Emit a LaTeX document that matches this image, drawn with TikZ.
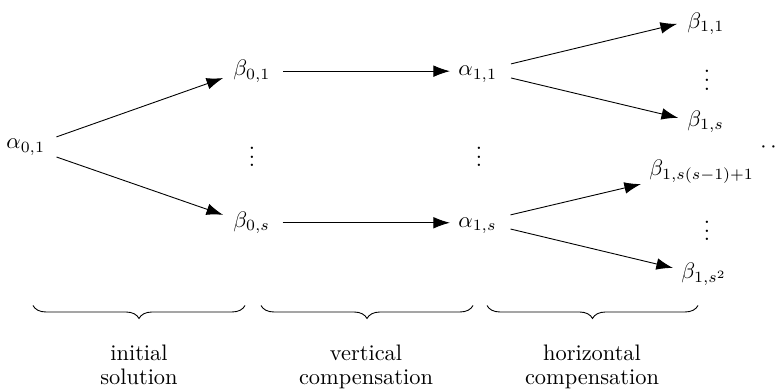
\documentclass[tikz,border=0pt]{standalone}
\usetikzlibrary{arrows.meta,decorations.pathreplacing}
\begin{document}
\begin{tikzpicture}[x=0.4464pt,y=-0.4464pt,
  lbl/.style={inner sep=0pt,anchor=base west},
  dotsn/.style={inner sep=0pt,anchor=base},
  arr/.style={-{Latex[length=7.4pt,width=5.2pt]}},
  capn/.style={inner sep=0pt,anchor=north,align=center,font=\fontsize{10}{10.5}\selectfont},
  brc/.style={decorate,decoration={brace,mirror,amplitude=5.8pt}}]
\useasboundingbox (0,0) rectangle (781,390);
% nodes
\node[lbl] (A01) at (6,149) {$\alpha_{0,1}$};
\node[lbl] (B01) at (233,76) {$\beta_{0,1}$};
\node[lbl] (B0s) at (233,227.6) {$\beta_{0,s}$};
\node[lbl] (A11) at (458,76) {$\alpha_{1,1}$};
\node[lbl] (A1s) at (458,227.6) {$\alpha_{1,s}$};
\node[lbl] (B11) at (687,28.6) {$\beta_{1,1}$};
\node[lbl] (B1s) at (687,126.6) {$\beta_{1,s}$};
\node[lbl] (B1m) at (649,175.6) {$\beta_{1,s(s-1)+1}$};
\node[lbl] (B1q) at (681,278.6) {$\beta_{1,s^2}$};
\node[dotsn] (V0) at (252,167) {$\vdots$};
\node[dotsn] (V1) at (479,167) {$\vdots$};
\node[dotsn] (V2) at (707,90.5) {$\vdots$};
\node[dotsn] (V3) at (707,241) {$\vdots$};
\node[lbl] (D) at (760,152.6) {$\cdotp\cdotp$};
% connectors
\draw[arr,shorten <=5.2pt,shorten >=4.7pt] ([yshift=2.95pt]A01.east) -- ([yshift=-1.4pt]B01.west);
\draw[arr,shorten <=5.2pt,shorten >=4.7pt] ([yshift=-2.6pt]A01.east) -- ([yshift=2.1pt]B0s.west);
\draw[arr,shorten <=5.5pt,shorten >=3.6pt] (B01.mid east) -- (A11.mid west);
\draw[arr,shorten <=5.5pt,shorten >=3.6pt] (B0s.mid east) -- (A1s.mid west);
\draw[arr,shorten <=6.2pt,shorten >=4.6pt] ([yshift=1.8pt]A11.mid east) -- ([yshift=1pt]B11.mid west);
\draw[arr,shorten <=6.2pt,shorten >=4.1pt] ([yshift=-1.6pt]A11.mid east) -- ([yshift=0.8pt]B1s.mid west);
\draw[arr,shorten <=6.2pt,shorten >=3.7pt] ([yshift=2.1pt]A1s.mid east) -- ([yshift=-5.1pt]B1m.mid west);
\draw[arr,shorten <=6.2pt,shorten >=3.7pt] ([yshift=-1.35pt]A1s.mid east) -- ([yshift=1.75pt]B1q.mid west);
% braces
\coordinate (L1) at (33,305.5);  \coordinate (R1) at (245,305.5);
\coordinate (L2) at (261,305.5); \coordinate (R2) at (473,305.5);
\coordinate (L3) at (487,305.5); \coordinate (R3) at (698,305.5);
\draw[brc] (L1) -- (R1);
\draw[brc] (L2) -- (R2);
\draw[brc] (L3) -- (R3);
% captions
\node[capn] (C1) at (139,345) {initial\\solution};
\node[capn] (C2) at (366,345) {vertical\\compensation};
\node[capn] (C3) at (592,345) {horizontal\\compensation};
\end{tikzpicture}
\end{document}
